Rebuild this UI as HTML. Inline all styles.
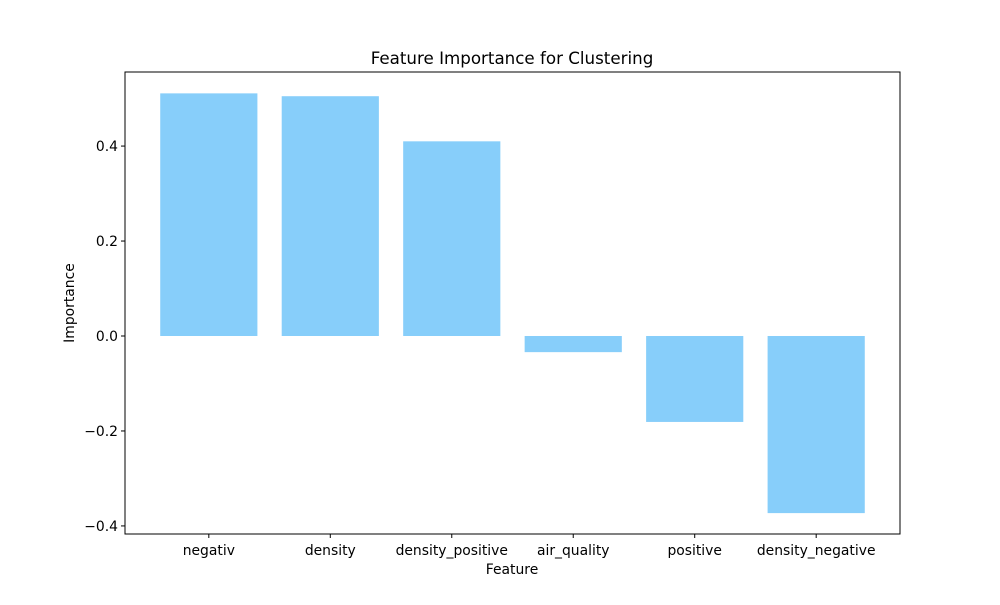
<!DOCTYPE html>
<html><head><meta charset="utf-8"><style>
body{margin:0;background:#fff;font-family:"Liberation Sans","DejaVu Sans",sans-serif;}
svg text{font-family:"DejaVu Sans","Liberation Sans",sans-serif;}
</style></head><body>
<svg id="chart" width="1000" height="600" xmlns="http://www.w3.org/2000/svg">
<rect width="1000" height="600" fill="#fff"/>
<text x="512" y="64" font-size="16.7" text-anchor="middle" fill="#000">Feature Importance for Clustering</text>
<text x="512" y="574" font-size="13.9" text-anchor="middle">Feature</text>
<text x="74" y="303" font-size="13.9" text-anchor="middle" transform="rotate(-90 74 303)">Importance</text>
<g id="bars"></g><g id="ticks"></g>
<rect x="125" y="72" width="775" height="462" fill="none" stroke="#000" stroke-width="1"/>
</svg>
<script>
const categories=["negativ","density","density_positive","air_quality","positive","density_negative"];
const values=[0.511,0.505,0.41,-0.034,-0.181,-0.373];
const yTicks=[-0.4,-0.2,0.0,0.2,0.4];
const yTickLabels=["−0.4","−0.2","0.0","0.2","0.4"];
const L=125,R=900,T=72,B=534,ymin=-0.417,ymax=0.556,xmin=-0.69,xmax=5.69;
const sx=v=>L+(v-xmin)/(xmax-xmin)*(R-L);
const sy=v=>T+(ymax-v)/(ymax-ymin)*(B-T);
const NS="http://www.w3.org/2000/svg";
const bars=document.getElementById('bars'),ticks=document.getElementById('ticks');
function mk(t,a,p){const e=document.createElementNS(NS,t);for(const k in a)e.setAttribute(k,a[k]);p.appendChild(e);return e;}
categories.forEach((c,i)=>{
 const x0=sx(i-0.4),x1=sx(i+0.4),y0=sy(0),y1=sy(values[i]);
 const r=mk('rect',{x:x0,y:Math.min(y0,y1),width:x1-x0,height:Math.abs(y1-y0),fill:'#87cefa'},bars);
 
 
 const tk=mk('line',{x1:sx(i),x2:sx(i),y1:B,y2:B+4,stroke:'#000'},ticks);
 
 
 const t=mk('text',{x:sx(i),y:B+21,'font-size':13.9,'text-anchor':'middle'},ticks);
 t.textContent=c;
 
 
});
yTicks.forEach((v,i)=>{
 const tk=mk('line',{x1:L-4,x2:L,y1:sy(v),y2:sy(v),stroke:'#000'},ticks);
 
 
 const t=mk('text',{x:L-7,y:sy(v)+5,'font-size':13.9,'text-anchor':'end'},ticks);
 t.textContent=yTickLabels[i];
 
 
});
</script>
</body></html>
